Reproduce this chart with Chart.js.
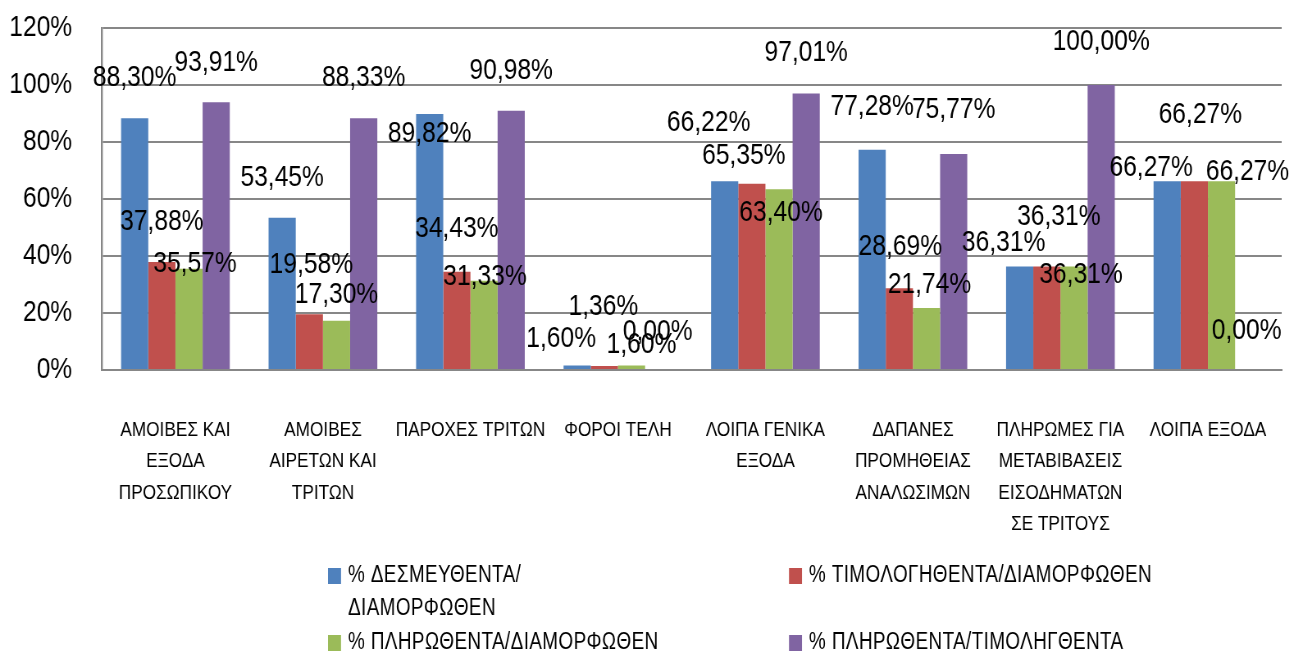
<!DOCTYPE html>
<html lang="el">
<head>
<meta charset="utf-8">
<title>Εκτέλεση προϋπολογισμού</title>
<script src="https://cdn.jsdelivr.net/npm/chart.js@4.4.1/dist/chart.umd.min.js"></script>
<style>
  html, body { margin: 0; padding: 0; background: #fff; overflow: hidden; }
  #wrap { width: 1290px; height: 659px; overflow: hidden; }
  /* το πρωτότυπο είναι "στενεμένο" οριζόντια, οπότε ζωγραφίζουμε πλατύτερα και συμπιέζουμε */
  #budget-chart { display: block; transform: scaleX(0.82); transform-origin: 0 0; }
</style>
</head>
<body>
<div id="wrap"><canvas id="budget-chart" width="1573" height="659"></canvas></div>
<script>
// --- Δεδομένα ---
const categories = [
    ['ΑΜΟΙΒΕΣ ΚΑΙ', 'ΕΞΟΔΑ', 'ΠΡΟΣΩΠΙΚΟΥ'],
    ['ΑΜΟΙΒΕΣ', 'ΑΙΡΕΤΩΝ ΚΑΙ', 'ΤΡΙΤΩΝ'],
    ['ΠΑΡΟΧΕΣ ΤΡΙΤΩΝ'],
    ['ΦΟΡΟΙ ΤΕΛΗ'],
    ['ΛΟΙΠΑ ΓΕΝΙΚΑ', 'ΕΞΟΔΑ'],
    ['ΔΑΠΑΝΕΣ', 'ΠΡΟΜΗΘΕΙΑΣ', 'ΑΝΑΛΩΣΙΜΩΝ'],
    ['ΠΛΗΡΩΜΕΣ ΓΙΑ', 'ΜΕΤΑΒΙΒΑΣΕΙΣ', 'ΕΙΣΟΔΗΜΑΤΩΝ', 'ΣΕ ΤΡΙΤΟΥΣ'],
    ['ΛΟΙΠΑ ΕΞΟΔΑ']
];
const seriesNames = [
    '% ΔΕΣΜΕΥΘΕΝΤΑ/ΔΙΑΜΟΡΦΩΘΕΝ',
    '% ΤΙΜΟΛΟΓΗΘΕΝΤΑ/ΔΙΑΜΟΡΦΩΘΕΝ',
    '% ΠΛΗΡΩΘΕΝΤΑ/ΔΙΑΜΟΡΦΩΘΕΝ',
    '% ΠΛΗΡΩΘΕΝΤΑ/ΤΙΜΟΛΗΓΘΕΝΤΑ'
];
const committed = [88.30, 53.45, 89.82, 1.60, 66.22, 77.28, 36.31, 66.27];
const invoiced = [37.88, 19.58, 34.43, 1.36, 65.35, 28.69, 36.31, 66.27];
const paid = [35.57, 17.30, 31.33, 1.60, 63.40, 21.74, 36.31, 66.27];
const paidOfInvoiced = [93.91, 88.33, 90.98, 0.00, 97.01, 75.77, 100.00, 0.00];
const yTicks = [0, 20, 40, 60, 80, 100, 120];

const colors = ['#4F81BD', '#C0504D', '#9BBB59', '#8064A2'];
const FONT = '"Liberation Sans", Arial, sans-serif';
const SQUASH = 0.82;

// Πόσα px πάνω από την κορυφή της μπάρας κάθεται το κέντρο της ετικέτας (και οριζόντια μετατόπιση)
const labelLift = [
    [41, 40, -20, 27, 59, 43, 24, 13],
    [40, 49, 43, 59, 28, 41, 50, 66],
    [5, 26, 4, 21, -23, 23, -8, 9],
    [40, 41, 40, 38, 41, 44, 43, 39]
];
const labelShift = [
    [0, 0, 0, -16, -16, 0, -16, -16],
    [0, 2, 0, -1, -8, 1, 12, 6],
    [6, 0, 1, 10, 2, 3, 7, 26],
    [0, 0, 0, -1, 0, 0, 0, -2]
];

// --- Ετικέτες τιμών πάνω στις μπάρες ---
const barLabels = {
    id: 'barLabels',
    afterDatasetsDraw(chart) {
        const ctx = chart.ctx;
        ctx.save();
        ctx.font = '30px ' + FONT;
        ctx.fillStyle = '#000';
        ctx.textAlign = 'center';
        ctx.textBaseline = 'middle';
        chart.data.datasets.forEach((ds, i) => {
            chart.getDatasetMeta(i).data.forEach((bar, j) => {
                const txt = ds.data[j].toFixed(2).replace('.', ',') + '%';
                ctx.fillText(txt, bar.x + labelShift[i][j] / SQUASH, bar.y - labelLift[i][j]);
            });
        });
        ctx.restore();
    }
};

// --- Υπόμνημα σε δύο στήλες (η πρώτη σειρά σπάει μετά το "/") ---
const gridLegend = {
    id: 'gridLegend',
    afterDraw(chart) {
        const ctx = chart.ctx;
        const colX = [328 / SQUASH, 789 / SQUASH];
        const rowY = [576, 643];
        ctx.save();
        ctx.font = '23px ' + FONT;
        ctx.letterSpacing = '0.5px';
        ctx.textBaseline = 'middle';
        chart.data.datasets.forEach((ds, i) => {
            const x = colX[i % 2];
            const y = rowY[Math.floor(i / 2)];
            ctx.fillStyle = ds.backgroundColor;
            ctx.fillRect(x, y - 8, 13 / SQUASH, 16);
            ctx.fillStyle = '#000';
            const cut = ds.label.indexOf('/') + 1;
            const lines = i === 0 ? [ds.label.slice(0, cut), ds.label.slice(cut)] : [ds.label];
            lines.forEach((line, k) => ctx.fillText(line, x + 20 / SQUASH, y + k * 33));
        });
        ctx.restore();
    }
};

const ctx = document.getElementById('budget-chart').getContext('2d');
const seriesValues = [committed, invoiced, paid, paidOfInvoiced];

new Chart(ctx, {
    type: 'bar',
    data: {
        labels: categories,
        datasets: seriesValues.map((vals, i) => ({
            label: seriesNames[i],
            data: vals,
            backgroundColor: colors[i],
            borderWidth: 0,
            categoryPercentage: 0.737,
            barPercentage: 1
        }))
    },
    options: {
        responsive: false,
        animation: false,
        layout: { padding: { left: 0, right: 10, top: 28, bottom: 0 } },
        plugins: {
            legend: { display: false },
            tooltip: { enabled: false }
        },
        scales: {
            x: {
                grid: { display: false },
                border: { display: true, color: '#878787', width: 2 },
                ticks: {
                    font: { size: 21, family: FONT, lineHeight: 1.5 },
                    color: '#000',
                    padding: 36,
                    maxRotation: 0,
                    autoSkip: false
                },
                afterFit(scale) {
                    scale.height = 289;
                    scale.paddingLeft = 0;
                    scale.paddingRight = 0;
                }
            },
            y: {
                min: 0,
                max: 120,
                afterBuildTicks(scale) { scale.ticks = yTicks.map(v => ({ value: v })); },
                grid: { color: '#878787', lineWidth: 2, drawTicks: false },
                border: { display: true, color: '#878787', width: 2.4 },
                ticks: {
                    font: { size: 30, family: FONT },
                    color: '#000',
                    padding: 36,
                    callback: v => v + '%'
                },
                afterFit(scale) {
                    scale.width = 124;
                    scale.paddingTop = 0;
                    scale.paddingBottom = 0;
                }
            }
        }
    },
    plugins: [barLabels, gridLegend]
});
</script>
</body>
</html>
